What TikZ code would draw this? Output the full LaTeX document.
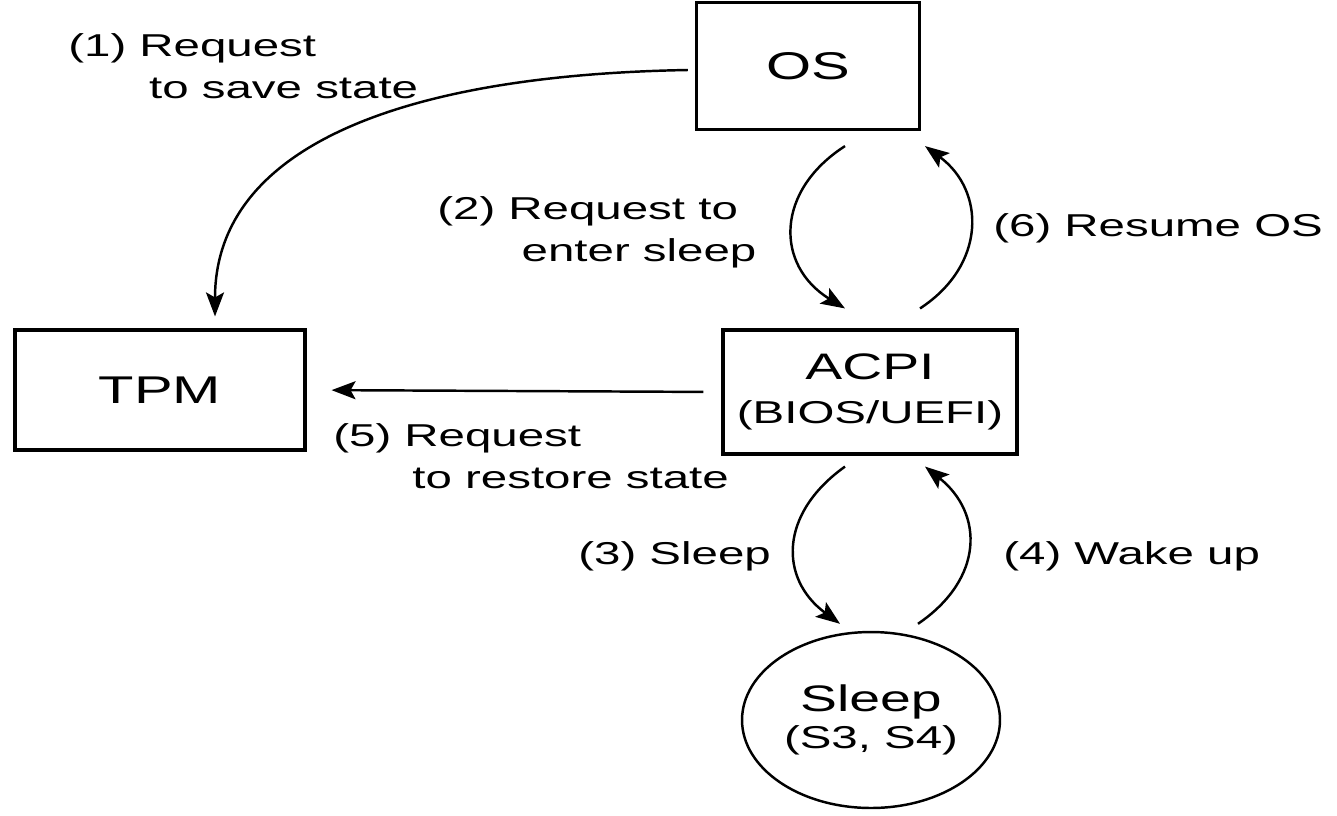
\documentclass[tikz,border=0pt]{standalone}
\usepackage{fontspec}
\setmainfont{Liberation Sans}[FakeStretch=1.5]
\usetikzlibrary{arrows.meta,shapes.geometric,calc}

\begin{document}
\begin{tikzpicture}[x=0.02cm,y=-0.02cm,
    box/.style={draw,line width=1.8pt,inner sep=0pt,font=\fontsize{22}{26}\selectfont},
    lbl/.style={inner sep=0pt,align=left,font=\fontsize{18}{24}\selectfont},
    arr/.style={line width=1.4pt,-{Stealth[length=0.48cm,width=0.36cm,inset=0.1cm]}}]
  \useasboundingbox (0,0) rectangle (1337,815);
  % boxes
  \node[box,minimum width=4.46cm,minimum height=2.54cm] (os) at (808,66) {OS};
  \node[box,minimum width=5.8cm,minimum height=2.4cm] (tpm) at (160,390) {TPM};
  \node[box,minimum width=5.88cm,minimum height=2.48cm,align=center] (acpi) at (870,392)
    {\fontsize{21}{25}\selectfont ACPI\\[-1pt]\fontsize{18}{22}\selectfont (BIOS/UEFI)};
  \node[draw,ellipse,line width=1.4pt,inner sep=0pt,minimum width=5.16cm,minimum height=3.52cm,align=center] (sleep) at (871,720)
    {\fontsize{21}{25}\selectfont Sleep\\[3pt]\fontsize{18}{22}\selectfont (S3, S4)};
  % labels
  \node[lbl,anchor=north west] (l1) at (68,33) {(1) Request\\\hspace*{46pt}to save state};
  \node[lbl,anchor=north west] (l2) at (437,196) {(2) Request to\\\hspace*{48pt}enter sleep};
  \node[lbl,anchor=west] (l3) at (578,556) {(3) Sleep};
  \node[lbl,anchor=west] (l4) at (1003,556) {(4) Wake up};
  \node[lbl,anchor=north west] (l5) at (333,423) {(5) Request\\\hspace*{45pt}to restore state};
  \node[lbl,anchor=west] (l6) at (993,228) {(6) Resume OS};
  % arrows
  \draw[arr] ($(os.west)+(-7,4)$) .. controls +(-290,5) and +(0,-168) .. ($(tpm.north)+(55,-12)$);
  \draw[arr] ($(os.south)+(37,15)$) .. controls +(-70,45) and +(-70,-43) .. ($(acpi.north)+(-25,-20)$);
  \draw[arr] ($(acpi.south)+(-25,11)$) .. controls +(-66,47) and +(-61,-45) .. ($(sleep.north)+(-31,-7)$);
  \draw[arr] ($(sleep.north)+(47,-7)$) .. controls +(66,-45) and +(59,47) .. ($(acpi.south)+(55,11)$);
  \draw[arr,shorten <=0.36cm,shorten >=0.5cm] (acpi.west) -- (tpm.east);
  \draw[arr] ($(acpi.north)+(50,-20)$) .. controls +(66,-43) and +(61,45) .. ($(os.south)+(117,15)$);
\end{tikzpicture}
\end{document}
